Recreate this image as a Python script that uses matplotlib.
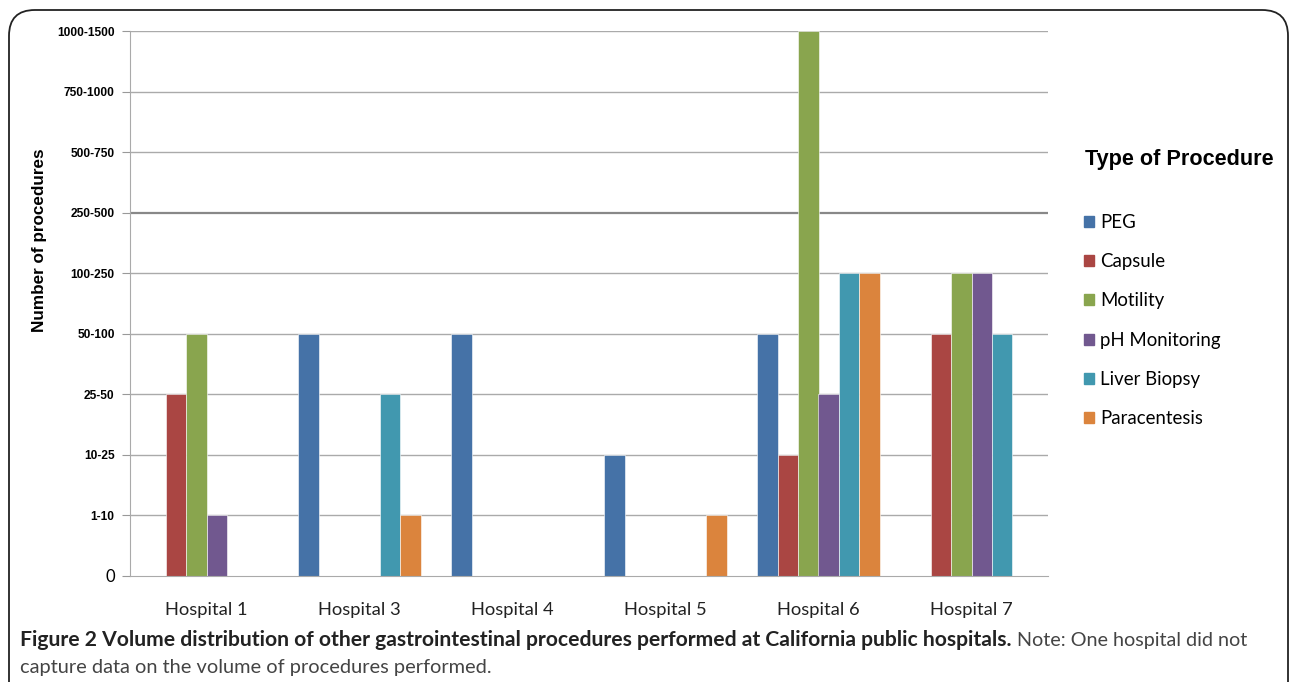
import numpy as np
import matplotlib
matplotlib.use("Agg")
import matplotlib.pyplot as plt
from matplotlib.patches import FancyBboxPatch, Rectangle

# data: bar height = index of the volume band
hospitals = ["Hospital 1", "Hospital 3", "Hospital 4", "Hospital 5", "Hospital 6", "Hospital 7"]
bands = ["0", "1-10", "10-25", "25-50", "50-100", "100-250", "250-500", "500-750", "750-1000", "1000-1500"]
procedures = ["PEG", "Capsule", "Motility", "pH Monitoring", "Liver Biopsy", "Paracentesis"]
peg = [0, 4, 4, 2, 4, 0]
capsule = [3, 0, 0, 0, 2, 4]
motility = [4, 0, 0, 0, 9, 5]
ph_monitoring = [1, 0, 0, 0, 3, 5]
liver_biopsy = [0, 3, 0, 0, 5, 4]
paracentesis = [0, 1, 0, 1, 5, 0]
series = [peg, capsule, motility, ph_monitoring, liver_biopsy, paracentesis]
colors = ["#4572A7", "#AA4643", "#89A54E", "#71588F", "#4198AF", "#DB843D"]

caption_bold = "Figure 2 Volume distribution of other gastrointestinal procedures performed at California public hospitals."
caption_note = "Note: One hospital did not"
caption_line2 = "capture data on the volume of procedures performed."

W, H = 1292, 682
fig = plt.figure(figsize=(W / 100, H / 100), dpi=100)
ax = fig.add_axes([130 / W, 1 - 576 / H, (1048 - 130) / W, (576 - 31) / H])

x = np.arange(len(hospitals))
bw = 0.8 / len(series)
for i, (vals, c, name) in enumerate(zip(series, colors, procedures)):
    ax.bar(x - 0.4 + bw * (i + 0.5), vals, width=bw, color=c, label=name,
           edgecolor="white", linewidth=0.4, zorder=3)

ax.set_xlim(-0.5, len(hospitals) - 0.5)
ax.set_ylim(0, len(bands) - 1)
ax.set_yticks(range(len(bands)))
ax.set_yticklabels(bands, fontfamily="Liberation Sans", fontweight="bold", fontsize=8.6)
zero = ax.get_yticklabels()[0]
zero.set_fontweight("normal")
zero.set_fontsize(12)
zero.set_fontfamily("Lato")
ax.set_xticks(x)
ax.set_xticklabels(hospitals, fontfamily="Lato", fontsize=13.2, color="#222222")
ax.tick_params(axis="x", length=0, pad=19)
ax.tick_params(axis="y", length=6, color="#999999", pad=5)

for k in range(1, len(bands)):
    lw, col = (1.6, "#888888") if bands[k] == "250-500" else (1.0, "#aaaaaa")
    ax.axhline(k, color=col, lw=lw, zorder=1)
for s in ["top", "right"]:
    ax.spines[s].set_visible(False)
ax.spines["left"].set_color("#aaaaaa")
ax.spines["bottom"].set_color("#aaaaaa")
ax.spines["bottom"].set_zorder(4)

fig.text(40 / W, 1 - 240 / H, "Number of procedures", fontfamily="Liberation Sans",
         fontweight="bold", fontsize=12.3, rotation=90, ha="center", va="center")

# legend
fig.text(1085 / W, 1 - 159 / H, "Type of Procedure", fontfamily="Liberation Sans",
         fontweight="bold", fontsize=15.6, va="center", ha="left")
handles = [Rectangle((0, 0), 1, 1, color=c) for c in colors]
fig.legend(handles, procedures, loc="upper left", bbox_to_anchor=(1067 / W, 1 - 197 / H),
           frameon=False, handlelength=0.55, handleheight=0.55, handletextpad=0.35,
           labelspacing=1.2, prop={"family": "Lato", "size": 13.4})

# outer rounded frame
frame = FancyBboxPatch((9 / W, -0.05), (1288 - 9) / W, 1 - 10 / H + 0.05,
                       boxstyle="round,pad=0,rounding_size=0.02", transform=fig.transFigure,
                       fill=False, edgecolor="#222222", lw=1.3, mutation_aspect=W / H)
fig.patches.append(frame)

# caption
t1 = fig.text(20 / W, 1 - 646 / H, caption_bold, fontfamily="Lato", fontweight="bold",
              fontsize=15.2, color="#222222", va="baseline")
fig.canvas.draw()
bb = t1.get_window_extent()
fig.text(bb.x1 / W + 5 / W, 1 - 646 / H, caption_note,
         fontfamily="Lato", fontsize=14.2, color="#444444", va="baseline")
fig.text(20 / W, 1 - 673 / H, caption_line2,
         fontfamily="Lato", fontsize=14.4, color="#444444", va="baseline")

fig.savefig("out.png", dpi=100)
